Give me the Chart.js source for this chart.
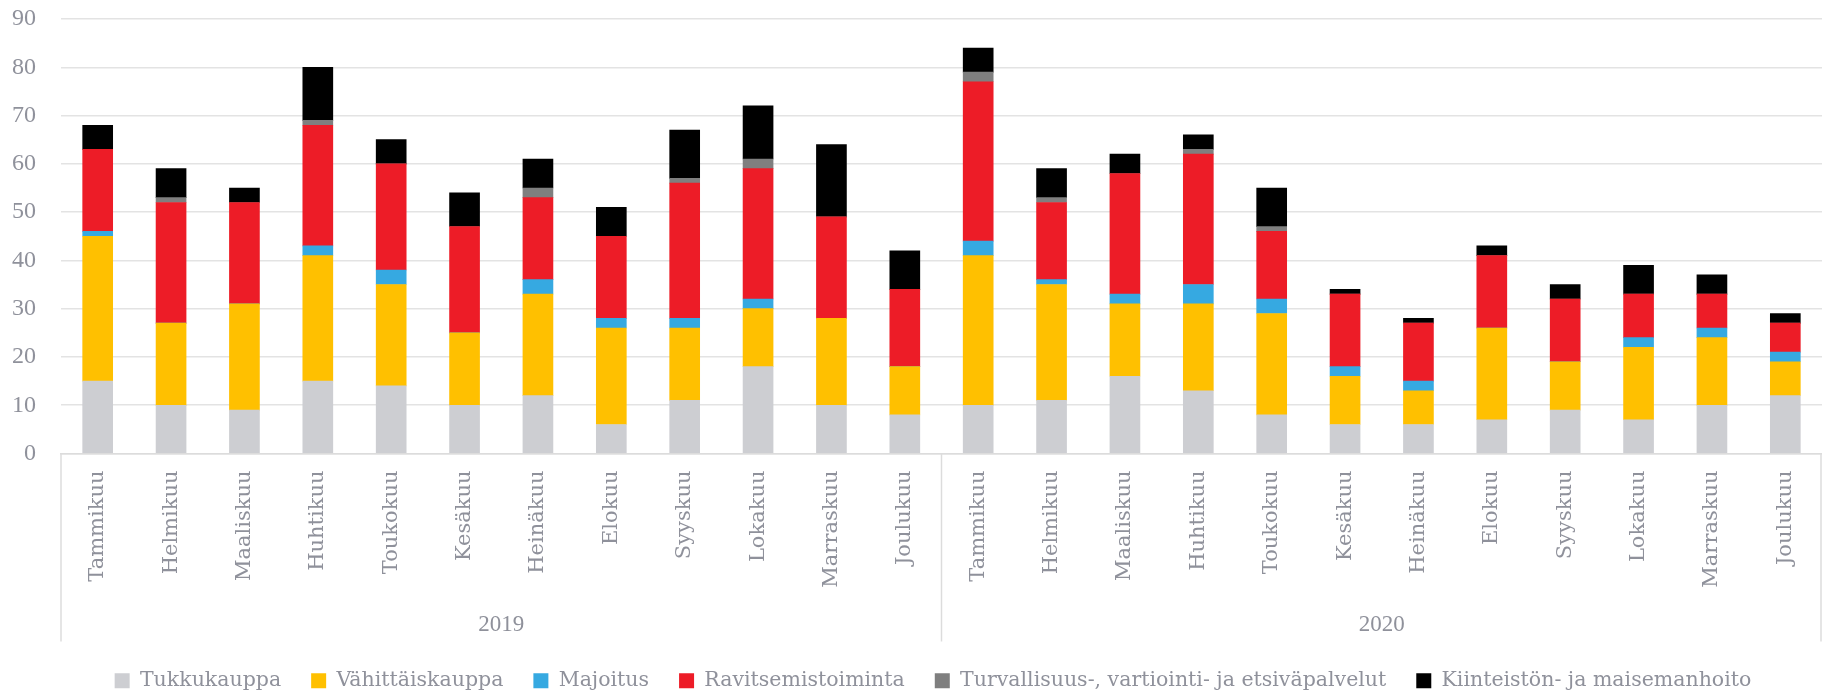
<!DOCTYPE html>
<html>
<head>
<meta charset="utf-8">
<script src="https://cdn.jsdelivr.net/npm/chart.js@4"></script>
<style>
  body { margin: 0; background: #fff; }
  #wrap { width: 1822px; height: 695px; }
</style>
</head>
<body>
<div id="wrap"><canvas id="chart"></canvas></div>
<script>
// Kuukaudet ja vuodet
const years = ['2019', '2020'];
const months = ['Tammikuu', 'Helmikuu', 'Maaliskuu', 'Huhtikuu', 'Toukokuu', 'Kesäkuu',
  'Heinäkuu', 'Elokuu', 'Syyskuu', 'Lokakuu', 'Marraskuu', 'Joulukuu'];
const yTicks = [0, 10, 20, 30, 40, 50, 60, 70, 80, 90];

// Sarjat (2019 tammikuu ... 2020 joulukuu)
const tukkukauppa = [15, 10, 9, 15, 14, 10, 12, 6, 11, 18, 10, 8,
  10, 11, 16, 13, 8, 6, 6, 7, 9, 7, 10, 12];
const vahittaiskauppa = [30, 17, 22, 26, 21, 15, 21, 20, 15, 12, 18, 10,
  31, 24, 15, 18, 21, 10, 7, 19, 10, 15, 14, 7];
const majoitus = [1, 0, 0, 2, 3, 0, 3, 2, 2, 2, 0, 0,
  3, 1, 2, 4, 3, 2, 2, 0, 0, 2, 2, 2];
const ravitsemis = [17, 25, 21, 25, 22, 22, 17, 17, 28, 27, 21, 16,
  33, 16, 25, 27, 14, 15, 12, 15, 13, 9, 7, 6];
const turvallisuus = [0, 1, 0, 1, 0, 0, 2, 0, 1, 2, 0, 0,
  2, 1, 0, 1, 1, 0, 0, 0, 0, 0, 0, 0];
const kiinteisto = [5, 6, 3, 11, 5, 7, 6, 6, 10, 11, 15, 8,
  5, 6, 4, 3, 8, 1, 1, 2, 3, 6, 4, 2];

const labels = years.flatMap(() => months);
const textColor = '#8f919b';
const lineColor = '#dcdcdc';

// vuosiryhmät ja erotinviivat kategoria-akselin alle
const yearGroups = {
  id: 'yearGroups',
  afterDraw(chart) {
    const x = chart.scales.x;
    const area = chart.chartArea;
    const ctx = chart.ctx;
    const half = (x.getPixelForValue(1) - x.getPixelForValue(0)) / 2;
    ctx.save();
    ctx.strokeStyle = lineColor;
    ctx.lineWidth = 1.5;
    for (let g = 0; g <= years.length; g++) {
      const px = g < years.length ? x.getPixelForValue(g * months.length) - half
        : x.getPixelForValue(labels.length - 1) + half - 1;
      ctx.beginPath();
      ctx.moveTo(px, area.bottom);
      ctx.lineTo(px, area.bottom + 188);
      ctx.stroke();
    }
    ctx.fillStyle = textColor;
    ctx.font = '23px "Liberation Serif"';
    ctx.textAlign = 'center';
    ctx.textBaseline = 'middle';
    years.forEach((yr, g) => {
      const a = x.getPixelForValue(g * months.length) - half;
      const b = x.getPixelForValue((g + 1) * months.length - 1) + half;
      ctx.fillText(yr, (a + b) / 2, area.bottom + 171);
    });
    ctx.restore();
  }
};

// legendaa hieman alemmas ja oikealle
const legendShift = {
  id: 'legendShift',
  afterLayout(chart) {
    chart.legend.top += 6;
    chart.legend.bottom += 6;
    chart.legend.left += 16;
    chart.legend.right += 16;
  }
};

const ctx = document.getElementById('chart').getContext('2d');
new Chart(ctx, {
  type: 'bar',
  data: {
    labels: labels,
    datasets: [
      { label: 'Tukkukauppa', data: tukkukauppa, backgroundColor: '#cdced2' },
      { label: 'Vähittäiskauppa', data: vahittaiskauppa, backgroundColor: '#ffc000' },
      { label: 'Majoitus', data: majoitus, backgroundColor: '#36a9e1' },
      { label: 'Ravitsemistoiminta', data: ravitsemis, backgroundColor: '#ed1c27' },
      { label: 'Turvallisuus-, vartiointi- ja etsiväpalvelut', data: turvallisuus, backgroundColor: '#7f7f7f' },
      { label: 'Kiinteistön- ja maisemanhoito', data: kiinteisto, backgroundColor: '#000000' }
    ]
  },
  options: {
    responsive: true,
    maintainAspectRatio: false,
    animation: false,
    barThickness: 30,
    layout: { padding: { left: 12, right: 0, top: 19, bottom: 0 } },
    plugins: {
      tooltip: { enabled: false },
      legend: {
        position: 'bottom',
        labels: {
          color: textColor,
          font: { family: 'DejaVu Serif', size: 20.5 },
          boxWidth: 15,
          boxHeight: 15,
          padding: 30
        }
      }
    },
    scales: {
      x: {
        stacked: true,
        grid: { display: false, drawTicks: false },
        border: { display: true, color: lineColor, width: 1.5 },
        ticks: {
          color: textColor,
          font: { family: 'DejaVu Serif', size: 21 },
          minRotation: 90,
          maxRotation: 90,
          autoSkip: false,
          padding: 17
        },
        afterFit(scale) {
          scale.height = 181;
          scale.paddingLeft = 0;
          scale.paddingRight = 0;
        }
      },
      y: {
        stacked: true,
        min: 0,
        max: 90,
        afterBuildTicks(scale) { scale.ticks = yTicks.map(v => ({ value: v })); },
        grid: { color: '#e3e3e3', lineWidth: 1.5, drawTicks: false },
        border: { display: false },
        ticks: {
          color: textColor,
          font: { family: 'Liberation Serif', size: 24 },
          padding: 25
        },
        afterFit(scale) {
          scale.width = 49;
          scale.paddingTop = 0;
          scale.paddingBottom = 0;
        }
      }
    }
  },
  plugins: [yearGroups, legendShift]
});
</script>
</body>
</html>
